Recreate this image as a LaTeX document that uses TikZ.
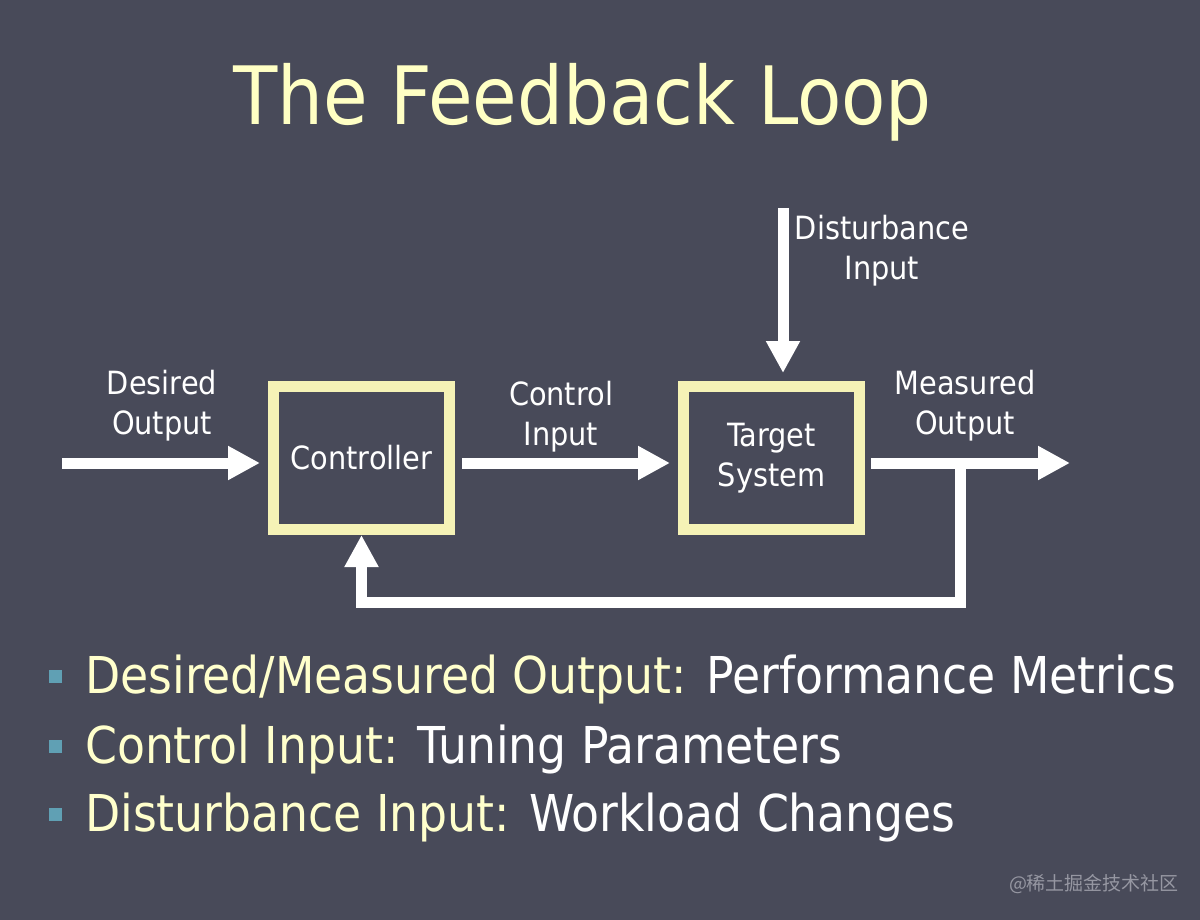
\documentclass[tikz,border=0pt]{standalone}
\usepackage{fontspec}
\setmainfont{DejaVu Sans Condensed}
\newfontfamily\cjk{Noto Sans CJK SC}
\usetikzlibrary{arrows.meta,calc}
\definecolor{bgc}{RGB}{72,74,89}
\definecolor{boxy}{RGB}{245,242,182}
\definecolor{titley}{RGB}{255,255,196}
\definecolor{buly}{RGB}{255,255,204}
\definecolor{bulc}{RGB}{96,160,180}
\definecolor{wmark}{RGB}{150,151,162}
\begin{document}
\begin{tikzpicture}[x=1pt,y=-1pt,
  blk/.style={draw=boxy, line width=11pt, minimum width=176pt, minimum height=143pt,
    inner sep=0pt, text=white, font=\fontsize{32}{40}\selectfont, align=center},
  flow/.style={draw=white, line width=11pt, line join=miter,
    -{Triangle[length=32pt,width=32pt]}},
  lbl/.style={text=white, font=\fontsize{32}{40}\selectfont, align=center, inner sep=0pt},
  bul/.style={anchor=base west, inner sep=0pt, text=white, font=\fontsize{50.8}{60}\selectfont},
  sq/.style={fill=bulc, minimum size=13pt, inner sep=0pt}
]
\fill[bgc] (0,0) rectangle (1200,920);
\useasboundingbox (0,0) rectangle (1200,920);

% title
\node[anchor=base west, inner sep=0pt, text=titley, font=\fontsize{80.5}{90}\selectfont] (title) at (233,125) {The Feedback Loop};

% blocks
\node[blk] (ctrl) at (361.5,458) {Controller};
\node[blk] (tgt) at (771.5,458) {Target\\System};

% coordinates
\coordinate (din) at (62,463);
\coordinate (dout) at (1070,463);
\coordinate (dist) at (783,208);
\coordinate (split) at (960,463);
\coordinate (fb) at (960,602);

% connectors
\draw[flow, shorten >=8pt] (din) -- (din -| ctrl.west);
\draw[flow, shorten <=7pt, shorten >=8pt] (din -| ctrl.east) -- (din -| tgt.west);
\draw[flow, shorten <=6pt] (din -| tgt.east) -- (dout);
\draw[flow, shorten >=8pt] (dist) -- (dist |- tgt.north);
\draw[flow] (split) -- (fb) -| (ctrl.south);

% labels
\node[lbl] (ldes) at (162,406) {Desired\\Output};
\node[lbl] (lctl) at (561,417) {Control\\Input};
\node[lbl] (lmea) at (965,406) {Measured\\Output};
\node[lbl] (ldis) at (882,251) {Disturbance\\Input};

% bullets
\node[sq] (b1) at (55,676) {};
\node[sq] (b2) at (55,746) {};
\node[sq] (b3) at (55,814) {};
\node[bul] (t1) at (85,693) {\textcolor{buly}{Desired/Measured Output:} Performance Metrics};
\node[bul] (t2) at (85,763) {\textcolor{buly}{Control Input:} Tuning Parameters};
\node[bul] (t3) at (85,831) {\textcolor{buly}{Disturbance Input:} Workload Changes};

% watermark
\node[text=wmark, inner sep=0pt, font=\cjk\fontsize{19}{20}\selectfont] (wm) at (1094,884) {@稀土掘金技术社区};
\end{tikzpicture}
\end{document}
